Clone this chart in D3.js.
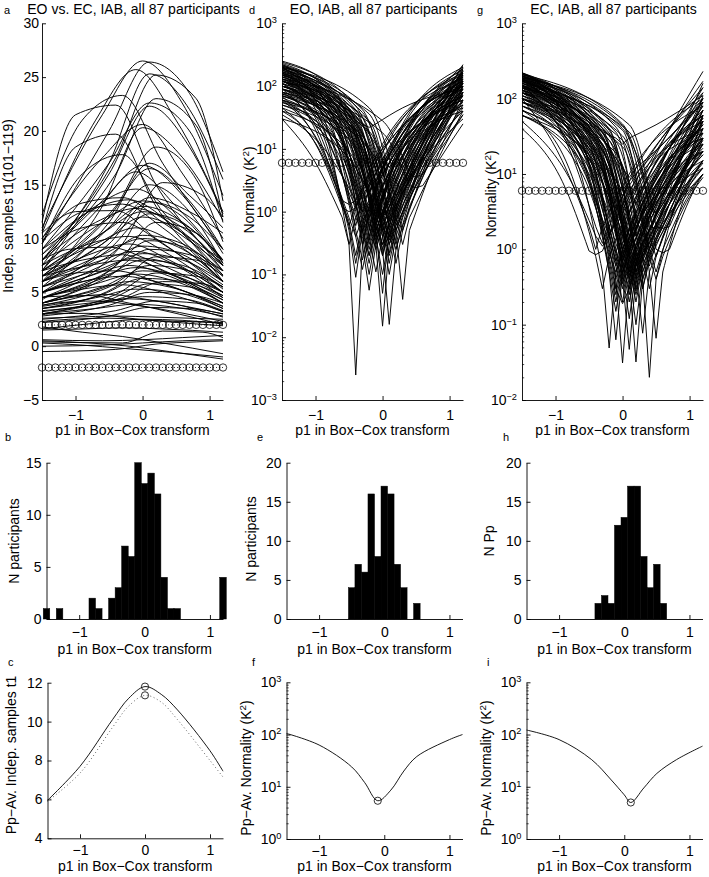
<!DOCTYPE html>
<html><head><meta charset="utf-8">
<script src="https://cdn.jsdelivr.net/npm/d3@7"></script>
<style>
body{margin:0;background:#fff}
svg{display:block}
text{font-family:"Liberation Sans",Arial,Helvetica,sans-serif;fill:#000}
</style></head>
<body><svg id="chart" width="709" height="877"></svg>
<script>
// ---------------- data ----------------
const pGrid = [-1.5,-1.4,-1.3,-1.2,-1.1,-1.0,-0.9,-0.8,-0.7,-0.6,-0.5,-0.4,-0.3,-0.2,-0.1,0,0.1,0.2,0.3,0.4,0.5,0.6,0.7,0.8,0.9,1.0,1.1,1.2];
const tCrit = [1.98, -1.98];
const k2Crit = 5.99;
const xTicks = [-1, 0, 1];

// panel a: per participant [t at -1.5, t at (peak-0.6), peak p1, peak t, t at (peak+0.6), t at 1.2]
const tCurves = [
[11.0,21.5,0.0,26.5,22.5,14.0],[9.5,20.0,0.1,26.4,23.5,16.2],[10.5,21.0,-0.1,25.7,21.0,12.5],
[7.5,17.0,0.1,25.3,22.0,15.5],[8.0,17.5,0.2,25.2,23.0,13.5],[12.2,21.0,-0.3,23.3,17.0,9.0],
[8.5,16.0,0.2,23.0,20.5,12.0],[9.0,17.0,0.1,22.6,20.0,11.5],[11.5,21.5,-0.4,22.4,15.0,7.5],
[7.0,16.0,0.1,22.3,18.5,12.3],[10.0,17.5,0.0,20.6,16.0,10.0],[6.0,13.0,0.0,20.3,17.5,11.7],
[10.7,18.5,-0.4,19.7,13.0,6.5],[7.0,13.0,0.2,18.5,15.5,9.7],[9.5,16.0,-0.3,17.8,12.5,8.0],
[5.5,11.5,0.1,17.0,14.0,11.0],[8.0,13.5,0.0,16.8,14.0,8.6],[6.5,12.0,0.1,16.5,13.5,9.0],
[7.0,12.5,-0.1,16.2,13.0,8.0],[4.5,9.5,0.3,15.2,14.0,12.0],[6.0,11.0,0.1,15.0,12.5,7.7],
[8.5,13.0,-0.1,14.6,12.0,7.0],[10.0,13.3,-0.3,13.8,11.5,7.5],[9.0,12.5,-0.2,13.6,11.5,6.6],
[7.5,11.5,0.0,13.5,12.0,7.5],[5.0,9.5,0.1,13.4,12.0,9.0],[9.8,12.5,-0.3,13.2,11.0,6.0],
[6.5,10.5,0.0,13.0,11.5,8.0],[8.0,11.5,-0.1,12.8,11.0,6.0],[7.0,10.5,0.0,12.5,11.0,7.5],
[5.5,9.0,0.1,12.3,11.0,8.0],[10.5,12.5,-0.4,12.6,10.0,5.7],[6.0,9.5,0.0,12.0,10.5,7.0],
[4.0,7.5,0.2,11.5,10.5,7.7],[9.0,11.0,-0.3,11.5,9.5,5.3],[7.0,9.5,-0.1,11.0,9.5,6.0],
[5.5,8.0,0.0,10.3,9.5,6.6],[7.5,9.5,-0.2,10.2,8.5,5.0],[6.0,8.5,0.0,10.0,9.0,6.0],
[4.5,7.0,0.1,9.8,9.0,7.0],[6.5,8.5,-0.2,9.5,8.0,5.0],[5.0,7.5,0.0,9.3,8.5,6.0],
[8.0,9.0,-0.5,9.2,8.0,4.7],[4.0,6.5,0.1,9.0,8.5,7.0],[6.0,7.8,-0.1,8.8,7.5,4.5],
[5.0,7.0,0.0,8.6,8.0,6.0],[7.0,8.0,-0.3,8.5,7.0,4.3],[3.5,5.5,0.2,8.3,8.0,6.5],
[5.5,7.0,-0.1,8.2,7.5,5.0],[4.5,6.3,0.0,8.0,7.5,5.5],[6.5,7.5,-0.2,8.0,6.8,4.0],
[3.8,5.5,0.1,7.5,7.0,5.5],[5.0,6.3,-0.1,7.3,6.5,4.5],[4.0,5.5,0.0,7.0,6.5,5.0],
[6.0,6.8,-0.4,7.0,6.0,3.7],[3.0,4.8,0.2,6.8,6.5,5.5],[4.5,5.8,-0.1,6.7,6.0,4.0],
[5.0,6.0,-0.3,6.5,5.8,3.5],[3.5,4.8,0.0,6.3,6.0,4.7],[4.0,5.0,-0.2,6.0,5.5,3.7],
[3.0,4.3,0.1,5.8,5.5,4.3],[4.5,5.3,-0.3,5.7,5.0,3.2],[3.7,4.5,-0.1,5.3,5.0,3.5],
[2.8,3.8,0.1,5.0,4.8,4.0],[4.0,4.5,-0.5,4.8,4.3,3.0],[3.2,4.0,0.0,4.6,4.4,3.3],
[3.5,4.0,-0.2,4.4,4.0,2.7],[2.5,3.3,0.2,4.2,4.0,3.2],[3.8,4.0,-0.7,4.2,3.8,2.3],
[3.0,3.5,-0.1,3.9,3.6,2.8],[2.2,2.8,0.1,3.6,3.5,3.0],[4.3,4.6,-0.8,4.7,4.0,2.0],
[2.9,3.0,-0.8,3.05,2.6,1.9],[2.3,2.5,-0.5,2.6,2.4,2.2],[1.6,2.2,0.0,2.5,2.4,2.1],
[1.8,1.3,-0.3,0.9,0.3,-0.7],[0.6,0.5,0.0,0.6,0.8,1.0],[0.4,0.3,0.3,1.4,1.3,0.8],
[0.0,0.1,0.0,0.3,0.5,0.6],[-0.5,-0.3,0.2,0.2,0.4,0.5],[0.3,0.1,-0.3,-0.2,-0.5,-1.0],
[0.5,0.3,-0.2,0.0,-0.5,-1.2],[2.6,2.7,-0.4,2.8,2.7,2.5],[1.5,1.6,-0.3,1.7,1.6,1.3],
[5.0,6.5,-0.2,7.5,6.5,4.0],[3.3,4.5,0.3,6.0,5.8,5.0],[6.5,10.0,0.1,13.8,12.5,10.5]
];

// panels d, g: per participant [p1 at minimum, K2 at -1.5, K2 at (min-0.5), K2 at (min±0.1), K2 minimum, K2 at (min+0.5), K2 at 1.2]
const eoCurves = [
[-0.5,40,12,1.15,1.0,6,60],[-0.5,70,15,1.5,1.3,9,110],[-0.5,30,6,0.8,0.3,5,70],[-0.5,90,20,1.2,0.6,12,150],
[-0.4,150,25,0.3,0.0025,9,120],[-0.4,110,18,0.5,0.09,8,90],[-0.4,60,10,0.8,0.4,6,70],[-0.4,200,35,1.5,0.6,14,160],
[-0.4,45,8,0.7,0.2,4,50],[-0.4,130,22,2.0,1.2,16,130],[-0.4,80,14,0.6,0.15,8,100],
[-0.3,170,30,0.5,0.17,11,140],[-0.3,120,25,1.0,0.3,14,180],[-0.3,60,12,0.8,0.5,7,60],[-0.3,220,45,2.5,1.0,16,100],
[-0.3,90,18,0.4,0.12,6,80],[-0.3,35,8,1.5,1.0,9,110],
[-0.2,250,80,3,0.5,25,200],[-0.2,200,60,25,22,45,90],[-0.2,140,30,0.3,0.056,10,120],[-0.2,100,22,0.6,0.2,12,140],
[-0.2,180,35,1.2,0.4,14,170],[-0.2,75,15,0.5,0.15,7,90],[-0.2,160,28,0.8,0.3,11,60],[-0.2,55,12,1.0,0.6,8,110],
[-0.2,120,25,2.0,1.0,15,150],[-0.2,210,50,4.0,2.0,22,100],[-0.2,90,20,0.4,0.1,6,75],[-0.2,130,24,0.7,0.25,10,45],
[-0.2,65,14,1.5,0.8,10,130],[-0.2,190,40,0.9,0.35,13,190],[-0.2,110,20,3.0,2.0,18,160],[-0.2,45,10,0.5,0.2,5,55],
[-0.1,150,28,0.4,0.11,8,100],[-0.1,100,20,0.8,0.3,10,130],[-0.1,180,35,1.5,0.6,13,160],[-0.1,70,14,0.6,0.25,7,70],
[-0.1,230,50,5,3,25,210],[-0.1,120,24,1.0,0.5,11,40],[-0.1,50,10,0.7,0.4,6,90],[-0.1,160,32,10,7,30,120],
[0,140,28,0.3,0.015,7,110],[0,110,22,0.5,0.05,9,150],[0,190,35,0.8,0.2,11,170],[0,80,16,0.6,0.3,7,90],
[0,160,30,1.2,0.5,12,120],[0,60,12,0.9,0.4,6,60],[0,220,42,2.0,1.0,15,200],[0,100,20,0.4,0.1,6,80],
[0,130,25,1.5,0.8,14,140],[0,40,9,0.8,0.5,5,40],[0,170,35,3.0,1.5,18,100],[0,90,18,0.5,0.2,7,180],
[0,120,24,0.7,0.3,9,70],[0,200,40,6,4,25,150],[0,70,14,1.0,0.6,8,110],[0,150,28,0.6,0.25,8,50],[0,30,7,1.2,0.8,5,30],
[0.1,130,26,0.25,0.016,7,100],[0.1,170,34,0.6,0.22,9,130],[0.1,100,21,0.5,0.15,7,80],[0.1,210,42,1.5,0.6,13,190],
[0.1,80,17,0.7,0.3,6,60],[0.1,150,30,1.0,0.4,10,150],[0.1,60,13,0.8,0.4,5,45],[0.1,190,38,2.5,1.2,15,170],
[0.1,110,23,0.4,0.1,7,120],[0.1,240,48,4,2.5,20,220],[0.1,90,19,1.2,0.7,8,90],[0.1,140,28,0.9,0.35,8,70],
[0.1,50,11,0.6,0.3,4,35],[0.1,120,25,2.0,1.0,12,140],[0.1,75,16,0.5,0.2,6,100],[0.1,160,33,8,5,22,110],
[0.2,150,32,0.5,0.15,8,90],[0.2,100,23,0.8,0.3,9,120],[0.2,200,42,1.5,0.7,13,160],[0.2,70,16,0.6,0.25,6,50],
[0.2,120,26,2.0,1.0,11,70],[0.2,55,13,1.0,0.5,7,80],[0.2,180,38,3,1.8,15,130],
[0.3,120,28,0.5,0.04,7,60],[0.3,160,36,1.2,0.5,11,100],[0.3,80,19,0.8,0.3,6,40],[0.3,200,45,3,2,14,80],
[0.5,90,18,2.6,2.4,12,25],[0.5,130,28,4,3.5,16,35]
];

const ecCurves = [
[-0.4,40,8,0.95,0.85,6,40],[-0.4,100,15,2,1.0,10,80],
[-0.3,70,12,0.8,0.3,6,50],[-0.3,150,22,2.0,1.2,12,100],[-0.3,50,9,1.5,1.1,7,35],
[-0.2,120,16,0.5,0.049,6,60],[-0.2,180,24,2.5,1.5,12,140],
[-0.1,200,25,0.5,0.063,6,90],[-0.1,150,20,1.0,0.4,8,60],[-0.1,110,16,0.8,0.3,6,40],[-0.1,220,30,2.0,0.9,12,230],
[-0.1,90,13,0.6,0.2,5,30],[-0.1,170,24,1.5,0.7,10,100],[-0.1,60,10,0.9,0.5,5,45],[-0.1,130,20,3.0,2.0,14,170],
[-0.1,190,26,0.7,0.25,7,70],[-0.1,80,12,1.2,0.6,6,55],[-0.1,140,22,5,3.5,18,120],[-0.1,100,15,0.5,0.15,5,25],
[0,180,26,0.4,0.031,6,80],[0,140,20,0.3,0.19,5,50],[0,200,30,1.0,0.4,9,140],[0,100,16,0.8,0.35,6,35],
[0,160,24,1.5,0.8,10,100],[0,70,12,0.9,0.5,5,20],[0,220,32,3,1.5,14,60],[0,120,18,0.6,0.2,6,45],
[0,190,45,30,25,45,110],[0,90,14,1.2,0.7,7,70],[0,150,22,2.0,1.0,10,30],[0,60,10,0.7,0.3,4,15],[0,130,22,8,6,20,90],
[0.1,170,28,0.4,0.047,5,60],[0.1,140,22,0.7,0.25,6,40],[0.1,200,32,1.2,0.5,8,100],[0.1,110,18,0.6,0.2,5,30],
[0.1,180,28,1.8,0.9,10,80],[0.1,90,15,1.0,0.5,6,25],[0.1,220,35,3,1.5,12,160],[0.1,130,20,0.5,0.12,5,50],
[0.1,160,25,0.9,0.4,7,20],[0.1,70,12,0.8,0.4,4,18],[0.1,190,30,5,3,16,120],[0.1,120,19,1.4,0.8,7,35],
[0.1,150,24,0.6,0.3,5,70],[0.1,100,16,2.0,1.2,8,45],[0.1,210,38,12,9,25,90],[0.1,80,13,0.7,0.35,4,12],[0.1,175,26,1.0,0.45,7,55],
[0.2,190,32,0.4,0.032,4,40],[0.2,150,25,0.6,0.2,5,30],[0.2,210,36,1.2,0.5,7,70],[0.2,120,21,0.8,0.35,4,20],
[0.2,170,29,1.5,0.7,8,50],[0.2,100,17,0.6,0.25,4,15],[0.2,200,35,3,1.8,10,90],[0.2,140,24,0.9,0.4,5,25],
[0.2,80,15,1.0,0.5,4,12],[0.2,180,31,2.0,1.0,8,60],[0.2,130,22,0.5,0.1,4,35],[0.2,160,30,6,4,15,45],
[0.2,110,20,1.2,0.6,5,18],[0.2,220,40,0.8,0.3,6,110],[0.2,90,16,2.5,1.5,7,22],[0.2,145,25,0.7,0.28,5,28],[0.2,60,11,0.9,0.45,3,10],
[0.3,180,35,0.5,0.077,4,30],[0.3,150,28,0.8,0.3,5,25],[0.3,200,38,1.5,0.7,7,50],[0.3,120,23,0.7,0.3,4,15],
[0.3,170,32,2.5,1.5,8,40],[0.3,100,19,1.0,0.5,4,12],[0.3,140,28,4,3,10,20],[0.3,210,40,0.9,0.4,5,60],
[0.4,170,36,0.4,0.02,8,20],[0.4,130,27,0.8,0.3,6,15],[0.4,200,42,2.0,1.0,12,30],[0.4,90,19,1.2,0.6,4.5,10],
[0.5,160,38,0.5,0.066,7,12],[0.5,190,44,2.0,1.9,11,20],[0.5,120,28,1.0,0.5,5.5,10],[0.5,210,46,4,3,14,25],
[0.5,140,32,1.5,0.8,8,14],[0.5,100,23,0.8,0.4,5,9],[0.5,180,40,6,5,17,30],
[0.6,150,36,1.0,0.9,7,10],[0.6,190,45,2.0,1.9,11,15]
];

// histograms (bin centres, counts)
const histPeakX = [-1.5,-1.3,-0.8,-0.7,-0.5,-0.4,-0.3,-0.2,-0.1,0,0.1,0.2,0.3,0.4,0.5,1.2];
const histPeakN = [1,1,2,1,2,3,7,6,15,13,14,12,4,1,1,4];
const histEoX = [-0.5,-0.4,-0.3,-0.2,-0.1,0,0.1,0.2,0.3,0.5];
const histEoN = [4,7,6,16,8,17,16,7,4,2];
const histEcX = [-0.4,-0.3,-0.2,-0.1,0,0.1,0.2,0.3,0.4,0.5,0.6];
const histEcN = [2,3,2,12,13,17,17,8,4,7,2];
const binWidth = 0.1;

// participant-averaged curves
const avgTx = [-1.5,-1.0,-0.5,-0.25,0,0.25,0.5,1.0,1.2];
const avgTsolid = [5.95,7.7,10.1,11.2,11.8,11.4,10.6,8.5,7.45];
const avgTdotted = [5.9,7.35,9.7,10.8,11.35,11.0,10.1,8.0,7.15];
const avgTmax = [[0,11.8],[0,11.35]];
const avgEoX = [-1.5,-1.0,-0.5,-0.3,-0.1,0.1,0.3,0.5,1.0,1.2];
const avgEoY = [105,63,24,12,5.4,8.6,20,38,80,100];
const avgEoMin = [-0.1,5.4];
const avgEcX = [-1.5,-1.0,-0.5,-0.2,0.0,0.1,0.3,0.5,0.8,1.2];
const avgEcY = [122,80,33,13.5,7,5.0,9.5,18,33,60];
const avgEcMin = [0.1,5.0];

// ---------------- drawing ----------------
const svg = d3.select("#chart");
const FS = 14;
const FT = 14;
const LW = 0.95;

function makePanel(o){
  const x = d3.scaleLinear().domain([-1.5,1.2]).range([o.x0,o.x1]);
  const y = (o.log ? d3.scaleLog() : d3.scaleLinear()).domain(o.yDomain).range([o.y1,o.y0]);
  const g = svg.append("g");
  return {x,y,g,o};
}

function supLabel(t, exp){
  t.append("tspan").text("10");
  t.append("tspan").attr("dy","-0.55em").attr("font-size", (FS*0.66)+"px").text(exp);
}

function drawAxes(p){
  const o = p.o;
  const xa = p.g.append("g").attr("transform",`translate(0,${o.y1})`)
    .call(d3.axisBottom(p.x).tickValues(xTicks).tickSize(-4).tickSizeOuter(0).tickPadding(o.xPad)
      .tickFormat(d3.format("d")));
  const ya = p.g.append("g").attr("transform",`translate(${o.x0},0)`)
    .call(d3.axisLeft(p.y).tickValues(o.yTicks).tickSize(-4).tickSizeOuter(0).tickPadding(o.yPad)
      .tickFormat(o.log ? (()=>"") : d3.format("d")));
  [xa,ya].forEach(a=>{a.attr("font-size",null).attr("font-family",null);
    a.selectAll("text").attr("font-size",FS+"px");
    a.selectAll("line,path").attr("stroke","#000").attr("stroke-width",0.9);});
  if(o.log){
    ya.selectAll(".tick text").each(function(d){
      const e = Math.round(Math.log10(d));
      supLabel(d3.select(this), e<0 ? "\u2212"+(-e) : String(e));
    });
    const minors = [];
    const lo = Math.round(Math.log10(o.yDomain[0])), hi = Math.round(Math.log10(o.yDomain[1]));
    for(let k=lo;k<hi;k++) for(let m=2;m<=9;m++) minors.push(m*Math.pow(10,k));
    const mg = p.g.append("g").attr("transform",`translate(${o.x0},0)`)
      .call(d3.axisLeft(p.y).tickValues(minors).tickSize(-2.2).tickFormat(""));
    mg.select(".domain").remove();
    mg.selectAll("line").attr("stroke","#000").attr("stroke-width",0.7);
  }
}

function texts(p, letter, lx, ly, ylab, ylx, yly, xlabY, title){
  const o = p.o;
  svg.append("text").attr("x",lx).attr("y",ly).attr("font-size","11px").text(letter);
  const yl = svg.append("text").attr("transform",`translate(${ylx},${yly}) rotate(-90)`)
     .attr("text-anchor","middle").attr("font-size",FS+"px");
  if (Array.isArray(ylab)) {
    yl.append("tspan").text(ylab[0]);
    yl.append("tspan").attr("dy",-5).attr("font-size",(FS*0.7)+"px").text(ylab[1]);
    yl.append("tspan").attr("dy",5).text(ylab[2]);
  } else yl.text(ylab);
  svg.append("text").attr("x",(o.x0+o.x1)/2).attr("y",xlabY).attr("text-anchor","middle")
     .attr("font-size",FS+"px").text("p1 in Box\u2212Cox transform");
  if(title) svg.append("text").attr("x",(o.x0+o.x1)/2+1).attr("y",14).attr("text-anchor","middle")
     .attr("font-size",FT+"px").text(title);
}

function critRow(p, yv){
  p.g.append("line").attr("x1",p.x(pGrid[0])).attr("x2",p.x(pGrid[pGrid.length-1]))
    .attr("y1",p.y(yv)).attr("y2",p.y(yv)).attr("stroke","#000").attr("stroke-width",0.8)
    .attr("stroke-dasharray","1,2");
  p.g.append("g").selectAll("circle").data(pGrid).join("circle")
    .attr("cx",d=>p.x(d)).attr("cy",p.y(yv)).attr("r",3.7)
    .attr("fill","none").attr("stroke","#000").attr("stroke-width",0.8);
}

const K2 = ["Normality (K","2",")"];
const K2av = ["Pp\u2212Av. Normality (K","2",")"];

// ---- panel a ----
const pa = makePanel({x0:42,x1:223,y0:23.3,y1:400,yDomain:[-5,30],yTicks:[-5,0,5,10,15,20,25,30],xPad:10,yPad:3});
tCrit.forEach(v=>critRow(pa,v));
{
  const line = d3.line().x(d=>pa.x(d[0])).y(d=>pa.y(d[1])).curve(d3.curveMonotoneX);
  pa.g.append("g").selectAll("path").data(tCurves).join("path")
    .attr("d",c=>line([[-1.5,c[0]],[c[2]-0.6,c[1]],[c[2],c[3]],[c[2]+0.6,c[4]],[1.2,c[5]]]))
    .attr("fill","none").attr("stroke","#000").attr("stroke-width",LW);
}
drawAxes(pa);
texts(pa,"a",4,14,"Indep. samples t1(101\u2212119)",12.5,206,435,"EO vs. EC, IAB, all 87 participants");

// ---- V-shaped normality panels ----
function vPanel(p, curves){
  critRow(p, k2Crit);
  const mono = d3.line().x(d=>p.x(d[0])).y(d=>p.y(d[1])).curve(d3.curveMonotoneX);
  p.g.append("g").selectAll("path").data(curves).join("path")
    .attr("d",c=>{
      const [xm,yL,yA,ys,ymin,yB,yR] = c;
      const L = mono([[-1.5,yL],[xm-0.5,yA],[xm-0.1,ys]]);
      const R = mono([[xm+0.1,ys],[xm+0.5,yB],[1.2,yR]]);
      return L + "L" + p.x(xm) + "," + p.y(ymin) + R.replace(/^M/,"L");
    })
    .attr("fill","none").attr("stroke","#000").attr("stroke-width",LW).attr("stroke-linejoin","round");
  drawAxes(p);
}
const pd = makePanel({x0:282,x1:463,y0:23.3,y1:400,log:true,yDomain:[1e-3,1e3],yTicks:[1e-3,1e-2,1e-1,1,10,100,1000],xPad:10,yPad:5});
vPanel(pd, eoCurves);
texts(pd,"d",249,14,K2,254,190,435,"EO, IAB, all 87 participants");

const pg = makePanel({x0:522,x1:703,y0:23.3,y1:400,log:true,yDomain:[1e-2,1e3],yTicks:[1e-2,1e-1,1,10,100,1000],xPad:10,yPad:5});
vPanel(pg, ecCurves);
texts(pg,"g",477,14,K2,496,194,435,"EC, IAB, all 87 participants");

// ---- histograms ----
function histPanel(p, xs, ns){
  p.g.append("g").selectAll("rect").data(xs.map((c,i)=>[c,ns[i]])).join("rect")
    .attr("x",d=>p.x(d[0]-binWidth/2)).attr("width",d=>p.x(d[0]+binWidth/2)-p.x(d[0]-binWidth/2))
    .attr("y",d=>p.y(d[1])).attr("height",d=>p.y(0)-p.y(d[1]))
    .attr("fill","#000").attr("stroke","#000").attr("stroke-width",0.5);
  drawAxes(p);
}
const pb = makePanel({x0:46.5,x1:223,y0:462.7,y1:619,yDomain:[0,15],yTicks:[0,5,10,15],xPad:8,yPad:5});
histPanel(pb, histPeakX, histPeakN);
texts(pb,"b",5,441,"N participants",18.5,541,654);

const pe = makePanel({x0:286.5,x1:462.5,y0:462.7,y1:619,yDomain:[0,20],yTicks:[0,5,10,15,20],xPad:8,yPad:5});
histPanel(pe, histEoX, histEoN);
texts(pe,"e",257,441,"N participants",255.5,539,654);

const ph = makePanel({x0:526.5,x1:702.5,y0:462.7,y1:619,yDomain:[0,20],yTicks:[0,5,10,15,20],xPad:8,yPad:5});
histPanel(ph, histEcX, histEcN);
texts(ph,"h",503,441,"N Pp",494,541,654);

// ---- averaged panels ----
const smooth = d3.curveCatmullRom.alpha(0.5);
const pc = makePanel({x0:47.5,x1:223,y0:682.7,y1:838.3,yDomain:[4,12],yTicks:[4,6,8,10,12],xPad:7,yPad:5});
{
  const line = d3.line().x(d=>pc.x(d[0])).y(d=>pc.y(d[1])).curve(smooth);
  pc.g.append("path").attr("d",line(avgTx.map((x,i)=>[x,avgTdotted[i]])))
    .attr("fill","none").attr("stroke","#555").attr("stroke-width",0.9).attr("stroke-dasharray","1,2.6");
  pc.g.append("path").attr("d",line(avgTx.map((x,i)=>[x,avgTsolid[i]])))
    .attr("fill","none").attr("stroke","#000").attr("stroke-width",0.9);
  pc.g.selectAll("circle").data(avgTmax).join("circle")
    .attr("cx",d=>pc.x(d[0])).attr("cy",d=>pc.y(d[1])).attr("r",3.6)
    .attr("fill","none").attr("stroke","#000").attr("stroke-width",0.8);
}
drawAxes(pc);
texts(pc,"c",8,666,"Pp\u2212Av. Indep. samples t1",15.5,755,870.5);

function avgLogPanel(p, xs, ys, mn){
  const line = d3.line().x(d=>p.x(d[0])).y(d=>p.y(d[1])).curve(smooth);
  p.g.append("path").attr("d",line(xs.map((x,i)=>[x,ys[i]])))
    .attr("fill","none").attr("stroke","#000").attr("stroke-width",0.9);
  p.g.append("circle").attr("cx",p.x(mn[0])).attr("cy",p.y(mn[1])).attr("r",3.6)
    .attr("fill","none").attr("stroke","#000").attr("stroke-width",0.8);
  drawAxes(p);
}
const pf = makePanel({x0:286.5,x1:462.5,y0:682.3,y1:839,log:true,yDomain:[1,1000],yTicks:[1,10,100,1000],xPad:7,yPad:5});
avgLogPanel(pf, avgEoX, avgEoY, avgEoMin);
texts(pf,"f",252,666,K2av,250.5,768,870.5);

const pi = makePanel({x0:526.5,x1:702.5,y0:682.3,y1:839,log:true,yDomain:[1,1000],yTicks:[1,10,100,1000],xPad:7,yPad:5});
avgLogPanel(pi, avgEcX, avgEcY, avgEcMin);
texts(pi,"i",487,666,K2av,490.5,768,870.5);
</script></body></html>
